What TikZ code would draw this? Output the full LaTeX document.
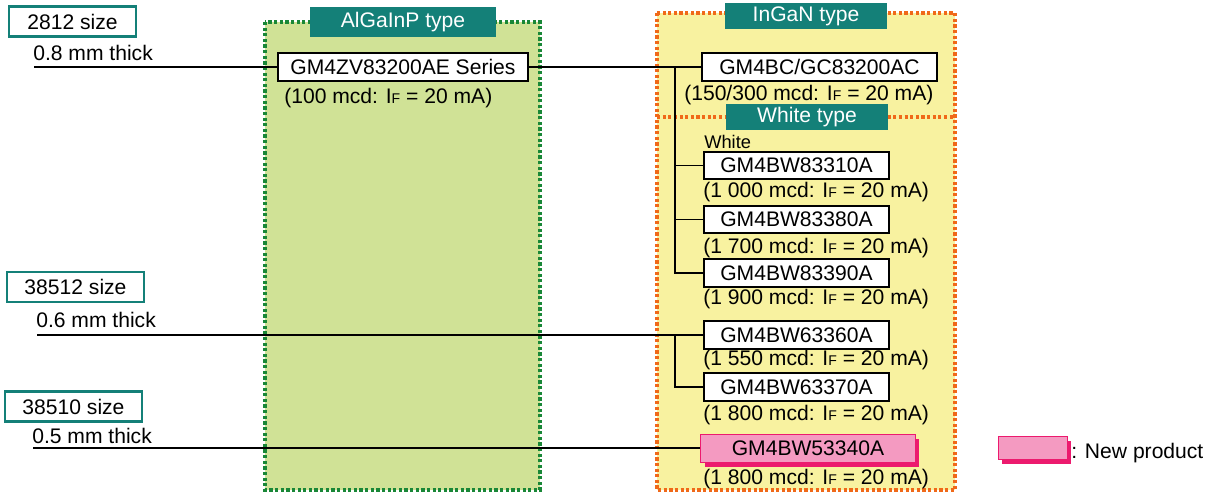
\documentclass[tikz,border=0pt]{standalone}
\usepackage{fontspec}
\setmainfont{Liberation Sans}
\usetikzlibrary{positioning, calc, shadows}

\definecolor{tealbox}{RGB}{20,128,120}
\definecolor{greenpanel}{RGB}{208,226,150}
\definecolor{greenline}{RGB}{25,135,55}
\definecolor{yellowpanel}{RGB}{248,242,160}
\definecolor{orangeline}{RGB}{240,105,25}
\definecolor{pinkfill}{RGB}{244,154,193}
\definecolor{pinkdark}{RGB}{236,26,110}

\newcommand{\curF}{I{\fontsize{10}{12}\selectfont F}}

\begin{document}
\begin{tikzpicture}[x=0.025cm, y=-0.025cm,
		every node/.style={font=\fontsize{15}{18}\selectfont, inner sep=0pt},
		sizebox/.style={draw=tealbox, line width=2.1pt, fill=white, minimum width=3.3cm, minimum height=0.73cm},
		typelabel/.style={fill=tealbox, text=white, minimum height=0.66cm},
		partbox/.style={draw, line width=1.2pt, fill=white, minimum height=0.69cm},
		newbox/.style={draw=pinkdark, line width=0.7pt, fill=pinkfill, general shadow={fill=pinkdark, shadow xshift=0.1cm, shadow yshift=-0.12cm}},
		note/.style={anchor=west},
		link/.style={line width=1.3pt},
		panel/.style={line width=2.6pt, dash pattern=on 2.3pt off 1.7pt}]
	\useasboundingbox (0,0) rectangle (1215,492);

	% background panels
	\draw[panel, draw=greenline, fill=greenpanel] (265,22) rectangle (540,490);
	\draw[panel, draw=orangeline, fill=yellowpanel] (657,13) rectangle (955,490);
	\draw[panel, draw=orangeline] (657,117) -- (955,117);

	% package sizes
	\node (s8) at (72.5,21.5) [sizebox, minimum width=3.175cm] {2812 size};
	\node (s6) at (75.5,287) [sizebox, minimum width=3.425cm, minimum height=0.75cm] {38512 size};
	\node (s5) at (73.5,406.5) [sizebox, minimum width=3.425cm] {38510 size};
	\node at (33,53) [note] {0.8 mm thick};
	\node at (36,320) [note] {0.6 mm thick};
	\node at (32,436) [note] {0.5 mm thick};

	% type labels
	\node (ag) at (403,22) [typelabel, minimum width=4.65cm, minimum height=0.75cm] {AlGaInP type};
	\node (ig) at (806,16) [typelabel, minimum width=4.05cm] {InGaN type};
	\node (wt) at (807,117) [typelabel, minimum width=4.05cm] {White type};

	% parts
	\node (0) at (403,67) [partbox, minimum width=6.25cm] {GM4ZV83200AE Series};
	\node at (284,98) [note] {(100 mcd: \curF{} = 20 mA)};
	\node (1) at (819.5,67) [partbox, minimum width=5.875cm] {GM4BC/GC83200AC};
	\node at (684,95) [note] {(150/300 mcd: \curF{} = 20 mA)};
	\node at (704,142) [note, font=\fontsize{13}{15}\selectfont] {White};
	\node (2) at (796.5,165.5) [partbox, minimum width=4.625cm] {GM4BW83310A};
	\node at (703,192) [note] {(1 000 mcd: \curF{} = 20 mA)};
	\node (3) at (796.5,219.5) [partbox, minimum width=4.625cm] {GM4BW83380A};
	\node at (703,248) [note] {(1 700 mcd: \curF{} = 20 mA)};
	\node (4) at (796.5,273) [partbox, minimum width=4.625cm] {GM4BW83390A};
	\node at (703,299) [note] {(1 900 mcd: \curF{} = 20 mA)};
	\node (5) at (796.5,335) [partbox, minimum width=4.625cm] {GM4BW63360A};
	\node at (703,360) [note] {(1 550 mcd: \curF{} = 20 mA)};
	\node (6) at (796.5,387) [partbox, minimum width=4.625cm] {GM4BW63370A};
	\node at (703,415) [note] {(1 800 mcd: \curF{} = 20 mA)};
	\node (7) at (808,448) [newbox, minimum width=5.35cm, minimum height=0.7cm] {GM4BW53340A};
	\node at (703,479) [note] {(1 800 mcd: \curF{} = 20 mA)};

	% legend
	\node (lg) at (1032.5,447.5) [newbox, minimum width=1.725cm, minimum height=0.575cm] {};
	\node at (1071,453) [note] {: New product};

	% connectors
	\coordinate (t8) at (34,67);
	\coordinate (t6) at (37,335);
	\coordinate (t5) at (33,448);
	\coordinate (j1) at (675,67);
	\coordinate (j2) at (675,335);
	\draw[link] (t8) -- (0.west);
	\draw[link] (0.east) -- (1.west);
	\draw[link] (j1) |- (2.west);
	\draw[link] (j1) |- (3.west);
	\draw[link] (j1) |- (4.west);
	\draw[link] (t6) -- (5.west);
	\draw[link] (j2) |- (6.west);
	\draw[link] (t5) -- (7.west);
\end{tikzpicture}
\end{document}
